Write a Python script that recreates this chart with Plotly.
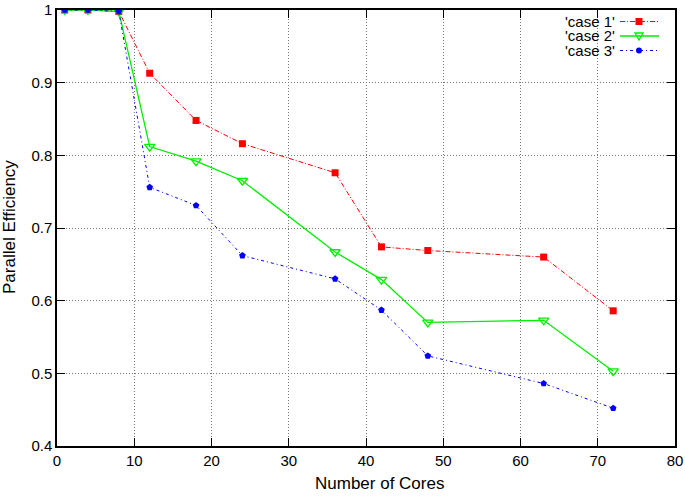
import plotly.graph_objects as go

cores = [1, 4, 8, 12, 18, 24, 36, 42, 48, 63, 72]
case1 = [1.0, 1.0, 0.998, 0.913, 0.848, 0.816, 0.776, 0.674, 0.669, 0.660, 0.586]
case2 = [1.0, 1.0, 0.998, 0.812, 0.792, 0.765, 0.667, 0.629, 0.570, 0.573, 0.503]
case3 = [1.0, 1.0, 0.998, 0.756, 0.731, 0.662, 0.630, 0.587, 0.524, 0.486, 0.452]
names = ["'case 1'", "'case 2'", "'case 3'"]

W, H = 685, 496
ML, MR, MT, MB = 57, 10, 10, 50
PW, PH = W - ML - MR, H - MT - MB


def px(x):
    return (x - ML) / PW


def py(y):
    return (H - MB - y) / PH


FONT = "Liberation Sans, Arial, Helvetica"
RED, GREEN, BLUE = "#ff0000", "#00ee00", "#0000ff"
DASH1 = "5px,2px,1px,2px"
DASH3 = "3px,3px,1px,3px"

fig = go.Figure()
fig.add_trace(go.Scatter(x=cores, y=case1, name=names[0], mode="lines+markers",
                         line=dict(color=RED, width=1, dash=DASH1),
                         marker=dict(symbol="square", size=7, color=RED)))
fig.add_trace(go.Scatter(x=cores, y=case2, name=names[1], mode="lines+markers",
                         line=dict(color=GREEN, width=1.3),
                         marker=dict(symbol="triangle-down-open", size=9, color=GREEN,
                                     line=dict(width=1.3))))
fig.add_trace(go.Scatter(x=cores, y=case3, name=names[2], mode="lines+markers",
                         line=dict(color=BLUE, width=1, dash=DASH3),
                         marker=dict(symbol="pentagon", size=7, color=BLUE)))

axis_common = dict(
    showline=True, linecolor="black", linewidth=1.5, mirror="allticks",
    ticks="inside", ticklen=8, tickcolor="black", tickwidth=1,
    showgrid=True, gridcolor="#777777", griddash="1px,2px", gridwidth=1,
    zeroline=False, automargin=False,
    tickfont=dict(family=FONT, size=15, color="black"),
)
fig.update_xaxes(range=[0, 80], dtick=10, tick0=0, **axis_common)
fig.update_yaxes(range=[0.4, 1.0], dtick=0.1, tick0=0.4, **axis_common)

annotations = [
    dict(text="Number of Cores", xref="paper", yref="paper", x=px(380), y=py(483),
         xanchor="center", yanchor="middle", showarrow=False,
         font=dict(family=FONT, size=17, color="black")),
    dict(text="Parallel Efficiency", xref="paper", yref="paper", x=px(10), y=py(227),
         xanchor="center", yanchor="middle", showarrow=False, textangle=-90,
         font=dict(family=FONT, size=17, color="black")),
]
shapes = []
rows = [21.5, 36, 50.5]
styles = [(RED, DASH1, 1), (GREEN, "solid", 1.3), (BLUE, DASH3, 1)]
for i, (nm, yy, (col, dsh, lw)) in enumerate(zip(names, rows, styles)):
    annotations.append(dict(text=nm, xref="paper", yref="paper", x=px(617), y=py(yy),
                            xanchor="right", yanchor="middle", showarrow=False,
                            font=dict(family=FONT, size=15, color="black")))
    shapes.append(dict(type="line", xref="paper", yref="paper",
                       x0=px(620), x1=px(659), y0=py(yy), y1=py(yy),
                       line=dict(color=col, width=lw, dash=dsh)))
    cx = 639
    if i == 0:
        shapes.append(dict(type="rect", xref="paper", yref="paper",
                           x0=px(cx - 3.5), x1=px(cx + 3.5), y0=py(yy - 3.5), y1=py(yy + 3.5),
                           fillcolor=col, line=dict(width=0)))
    elif i == 1:
        path = "M {} {} L {} {} L {} {} Z".format(
            px(cx - 4), py(yy - 3), px(cx + 4), py(yy - 3), px(cx), py(yy + 4))
        shapes.append(dict(type="path", xref="paper", yref="paper", path=path,
                           fillcolor="rgba(0,0,0,0)", line=dict(color=col, width=1.3)))
    else:
        shapes.append(dict(type="circle", xref="paper", yref="paper",
                           x0=px(cx - 3), x1=px(cx + 3), y0=py(yy - 3), y1=py(yy + 3),
                           fillcolor=col, line=dict(width=0)))

fig.update_layout(
    width=W, height=H,
    margin=dict(l=ML, r=MR, t=MT, b=MB),
    plot_bgcolor="white", paper_bgcolor="white",
    font=dict(family=FONT, color="black"),
    showlegend=False,
    annotations=annotations,
    shapes=shapes,
)
fig.write_html("out.html", config={"displayModeBar": False},
               post_script="document.body.style.margin='0';document.body.style.overflow='hidden';")
